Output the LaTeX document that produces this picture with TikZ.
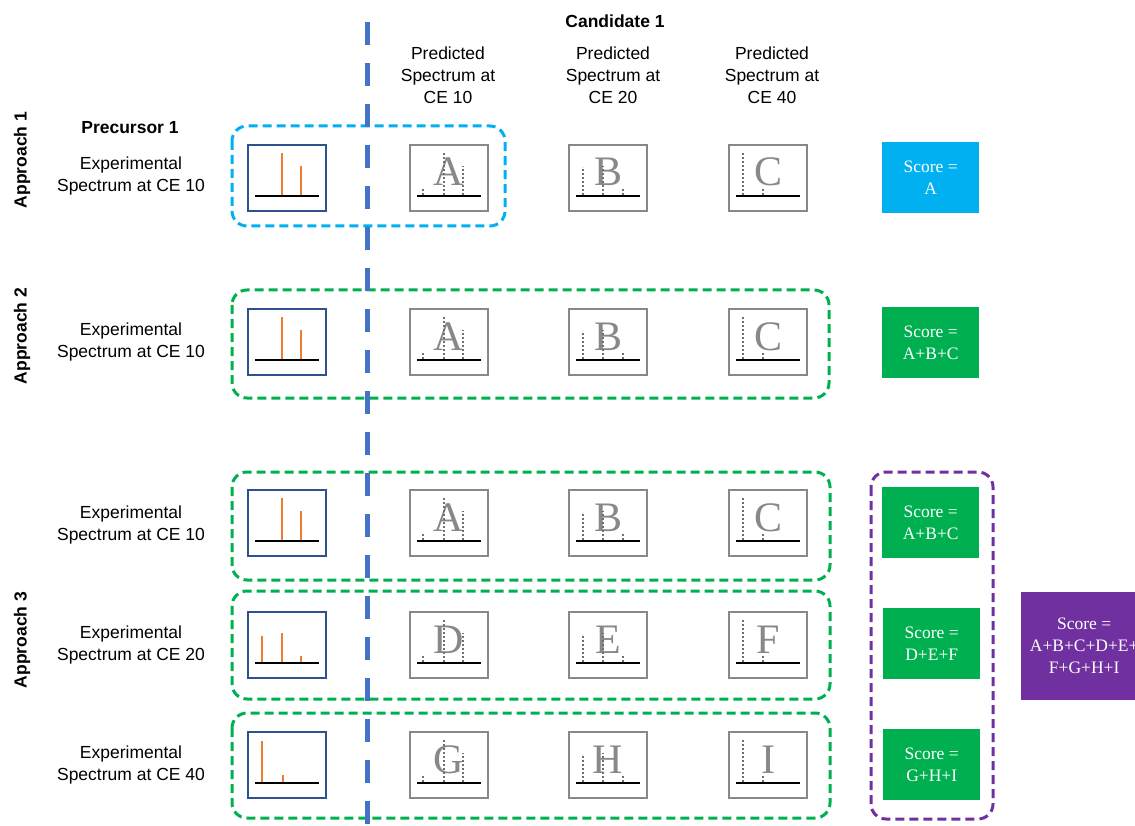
\documentclass[tikz,border=0pt]{standalone}
\usepackage{fontspec}
\setmainfont{Liberation Sans}
\newfontfamily\serifface{Liberation Serif}
\definecolor{expblue}{HTML}{2F528F}
\definecolor{predgray}{HTML}{888888}
\definecolor{dotgray}{HTML}{707070}
\definecolor{cyanc}{HTML}{00B0F0}
\definecolor{greenc}{HTML}{00B050}
\definecolor{purplec}{HTML}{7030A0}
\definecolor{lineblue}{HTML}{4472C4}
\definecolor{peakorange}{HTML}{ED7D31}
\tikzset{
  expbox/.style={draw=expblue, line width=2pt, minimum width=78pt, minimum height=66pt, inner sep=0pt, outer sep=0pt, anchor=north west},
  predbox/.style={draw=predgray, line width=2.5pt, minimum width=78pt, minimum height=66pt, inner sep=0pt, outer sep=0pt, anchor=north west},
  letter/.style={text=predgray, font=\serifface\fontsize{42}{42}\selectfont, inner sep=0pt, anchor=base},
  peak/.style={draw=peakorange, line width=2pt},
  dotline/.style={draw=dotgray, line width=2pt, dash pattern=on 2pt off 2pt},
  axisline/.style={draw=black, line width=2.5pt},
  scorebox/.style={text=white, font=\serifface\fontsize{17.5}{22}\selectfont, align=center, inner sep=0pt, anchor=north west, minimum width=97pt, minimum height=71pt},
  lbl/.style={font=\fontsize{17.5}{22}\selectfont, align=center, inner sep=0pt},
  boldlbl/.style={font=\bfseries\fontsize{17.5}{22}\selectfont, align=center, inner sep=0pt},
  grp/.style={rounded corners=15pt, line width=3pt, dash pattern=on 9pt off 5pt},
  vline/.style={draw=lineblue, line width=5pt, dash pattern=on 23pt off 18pt}
}
\newcommand\predspec[5]{%
  \node[predbox] (p#1) at (#2,#3) {};
  \node[letter] (l#1) at (#2+39,#3+41) {#4};
  \foreach \o/\h in {#5} \draw[dotline] (#2+\o,#3+50) -- ++(0,-\h);
  \draw[axisline] (#2+7,#3+51) -- (#2+71,#3+51);
}
\newcommand\specrow[6]{%
  \node[expbox] (e#1) at (248,#2) {};
  \foreach \o/\h in {#3} \draw[peak] (248+\o,#2+51) -- ++(0,-\h);
  \draw[axisline] (255,#2+51) -- (319,#2+51);
  \predspec{#1a}{410}{#2}{#4}{13/6,34/43,53/29}
  \predspec{#1b}{569}{#2}{#5}{14/28,34/29,54/6}
  \predspec{#1c}{729}{#2}{#6}{14/42,34/6}
}
\begin{document}
\begin{tikzpicture}[x=1pt,y=-1pt]
\useasboundingbox (0,0) rectangle (1135,826);
\clip (0,0) rectangle (1135,826);

% headers
\node[boldlbl] (cand) at (615,21) {Candidate 1};
\node[lbl] (h1) at (448,75) {Predicted\\Spectrum at\\CE 10};
\node[lbl] (h2) at (613,75) {Predicted\\Spectrum at\\CE 20};
\node[lbl] (h3) at (772,75) {Predicted\\Spectrum at\\CE 40};
\node[boldlbl] (prec) at (130,128) {Precursor 1};

% approach labels
\node[boldlbl, rotate=90] (ap1) at (22,160) {Approach 1};
\node[boldlbl, rotate=90] (ap2) at (22,336) {Approach 2};
\node[boldlbl, rotate=90] (ap3) at (22,640) {Approach 3};

% experimental labels
\node[lbl] (x1) at (131,176) {Experimental\\Spectrum at CE 10};
\node[lbl] (x2) at (131,342) {Experimental\\Spectrum at CE 10};
\node[lbl] (x3) at (131,525) {Experimental\\Spectrum at CE 10};
\node[lbl] (x4) at (131,645) {Experimental\\Spectrum at CE 20};
\node[lbl] (x5) at (131,765) {Experimental\\Spectrum at CE 40};

% group outlines
\draw[grp, draw=cyanc] (232,126) rectangle (505,226);
\draw[grp, draw=greenc] (232,290) rectangle (829,398);
\draw[grp, draw=greenc] (232,472) rectangle (830,580);
\draw[grp, draw=greenc] (232,591) rectangle (830,699);
\draw[grp, draw=greenc] (232,713) rectangle (830,818);
\draw[grp, draw=purplec] (871,472) rectangle (993,819);

% spectra rows
\specrow{r1}{145}{34/43,53/30}{A}{B}{C}
\specrow{r2}{309}{34/43,53/30}{A}{B}{C}
\specrow{r3}{490}{34/43,53/30}{A}{B}{C}
\specrow{r4}{612}{14/27,34/30,53/7}{D}{E}{F}
\specrow{r5}{732}{14/42,35/8}{G}{H}{I}

% scores
\node[scorebox, fill=cyanc] (s1) at (882,142) {Score =\\A};
\node[scorebox, fill=greenc] (s2) at (882,307) {Score =\\A+B+C};
\node[scorebox, fill=greenc] (s3) at (882,487) {Score =\\A+B+C};
\node[scorebox, fill=greenc] (s4) at (883,608) {Score =\\D+E+F};
\node[scorebox, fill=greenc] (s5) at (883,729) {Score =\\G+H+I};
\node[scorebox, fill=purplec, minimum width=126pt, minimum height=108pt] (s6) at (1021,592) {Score =\\A+B+C+D+E+\\F+G+H+I};

% dividing line
\coordinate (vtop) at (367,22);
\coordinate (vbot) at (367,826);
\draw[vline] (vtop) -- (vbot);
\end{tikzpicture}
\end{document}
